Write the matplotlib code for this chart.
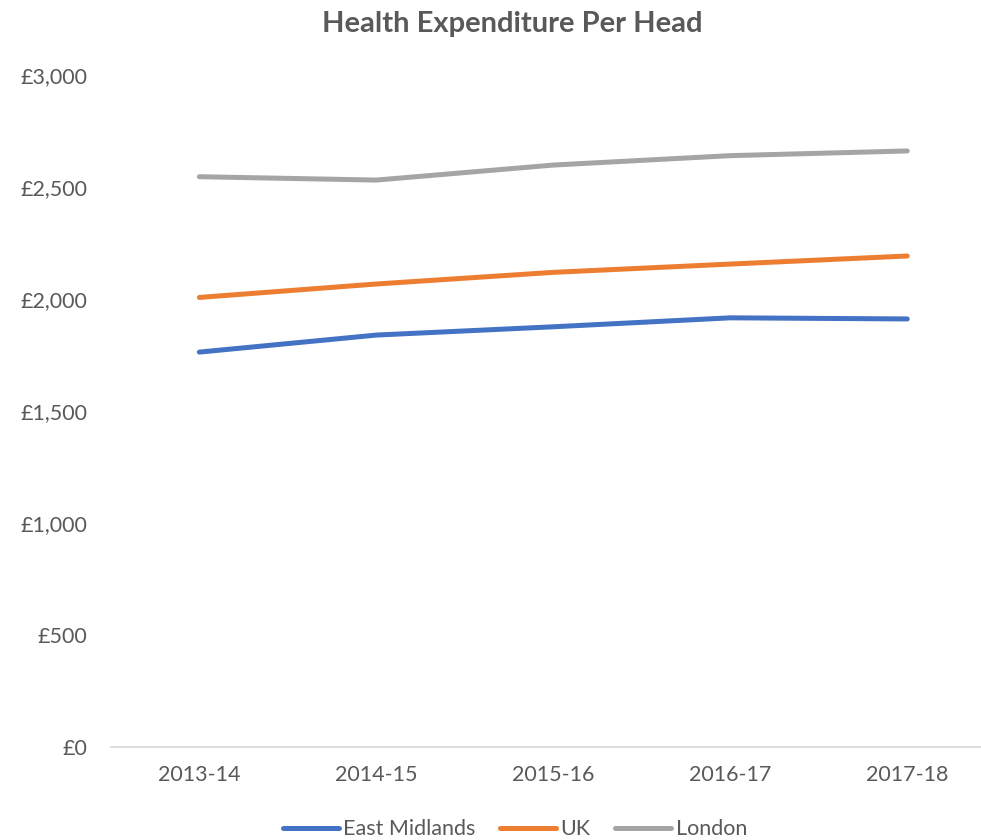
import matplotlib
matplotlib.use("Agg")
import matplotlib.pyplot as plt
from matplotlib.ticker import FuncFormatter

years = ["2013-14", "2014-15", "2015-16", "2016-17", "2017-18"]
east_midlands = [1763, 1839, 1876, 1916, 1911]
uk = [2007, 2067, 2119, 2156, 2192]
london = [2546, 2531, 2598, 2640, 2661]

plt.rcParams['font.family'] = ['Lato', 'DejaVu Sans']
txt = '#595959'

fig = plt.figure(figsize=(9.81, 8.40), dpi=100)
ax = fig.add_axes([0.113, 0.1107, 0.902, 0.8])

x = range(len(years))
ax.plot(x, east_midlands, color='#4472C4', lw=3.6, solid_capstyle='round', label='East Midlands')
ax.plot(x, uk, color='#ED7D31', lw=3.6, solid_capstyle='round', label='UK')
ax.plot(x, london, color='#A5A5A5', lw=3.6, solid_capstyle='round', label='London')

ax.set_xlim(-0.5, 4.5)
ax.set_ylim(0, 3000)
ax.set_yticks(range(0, 3001, 500))
ax.yaxis.set_major_formatter(FuncFormatter(lambda v, p: f"£{int(v):,}"))
ax.set_xticks(list(x))
ax.set_xticklabels(years)

for s in ['top', 'right', 'left']:
    ax.spines[s].set_visible(False)
ax.spines['bottom'].set_color('#D9D9D9')
ax.spines['bottom'].set_linewidth(1.2)
ax.tick_params(axis='both', length=0, labelsize=15.5, colors=txt)
ax.tick_params(axis='y', pad=17)
ax.tick_params(axis='x', pad=13)

fig.text(0.522, 0.972, "Health Expenditure Per Head", ha='center', va='center',
         fontsize=21, fontweight='bold', color=txt)

leg = fig.legend(loc='center', bbox_to_anchor=(0.525, 0.013), ncol=3, frameon=False,
                 fontsize=15.5, handlelength=2.6, handletextpad=0.2, columnspacing=1.15)
for t in leg.get_texts():
    t.set_color(txt)

fig.savefig("out.png", dpi=100)
